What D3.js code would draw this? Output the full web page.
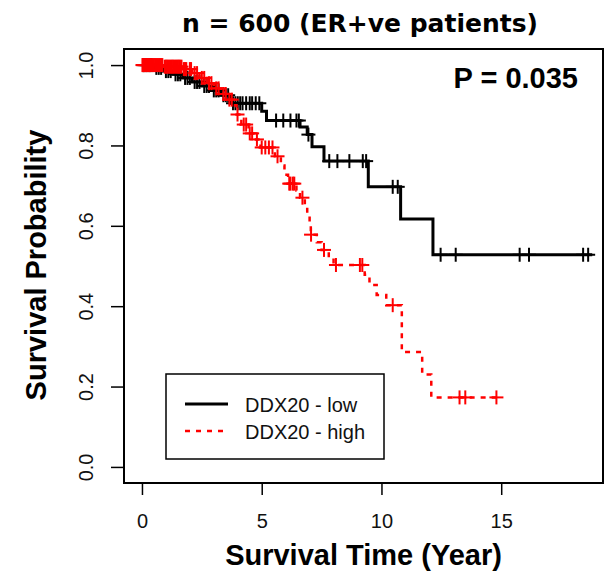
<!DOCTYPE html>
<html>
<head>
<meta charset="utf-8">
<script src="https://cdn.jsdelivr.net/npm/d3@7"></script>
<style>
  body { margin: 0; background: #fff; }
  svg { display: block; }
  text { font-family: "Liberation Sans", Arial, sans-serif; }
</style>
</head>
<body>
<svg width="606" height="575"></svg>
<script>
// KM curve for DDX20 - low (step times and survival after each step)
var lowTime = [0.5, 0.9, 1.3, 1.7, 2.1, 2.5, 2.9, 3.3, 3.7, 5.0, 5.2, 6.6, 6.9, 7.1, 7.6, 9.45, 10.8, 12.15];
var lowSurv = [0.993, 0.985, 0.977, 0.968, 0.958, 0.948, 0.937, 0.925, 0.905, 0.885, 0.862, 0.846, 0.827, 0.797, 0.761, 0.697, 0.617, 0.528];
var lowEnd = 18.8;
var lowCens = [0.05, 0.1, 0.15, 0.2, 0.3, 0.35, 0.4, 0.6, 0.7, 0.8, 1.0, 1.1, 1.2, 1.4, 1.5, 1.6, 1.8, 1.9, 2.0,
  2.2, 2.3, 2.4, 2.6, 2.7, 2.8, 3.0, 3.1, 3.2, 3.4, 3.5, 3.6, 3.8, 3.9, 4.0, 4.1, 4.2, 4.35, 4.5, 4.6, 4.75, 4.9,
  5.6, 5.9, 6.2, 6.45, 6.55, 6.95, 7.82, 8.16, 8.66, 9.22, 9.36, 10.47, 10.68, 12.47, 13.1, 15.77, 16.16, 18.42, 18.63];

// KM curve for DDX20 - high
var highTime = [0.9, 1.7, 2.1, 2.4, 2.7, 3.0, 3.3, 3.55, 3.8, 3.95, 4.15, 4.45, 4.7, 4.95, 5.55, 5.8, 5.95, 6.1,
  6.45, 6.6, 6.8, 6.9, 7.0, 7.05, 7.3, 7.5, 7.8, 8.0, 9.3, 9.5, 9.8, 10.2, 10.85, 11.7, 12.08];
var highSurv = [0.996, 0.99, 0.98, 0.968, 0.955, 0.942, 0.928, 0.914, 0.9, 0.877, 0.852, 0.83, 0.815, 0.795, 0.773,
  0.75, 0.727, 0.705, 0.688, 0.67, 0.647, 0.624, 0.601, 0.578, 0.559, 0.54, 0.521, 0.5025, 0.478, 0.453, 0.428,
  0.4025, 0.286, 0.23, 0.173];
var highEnd = 14.85;
var highCens = [0.02, 0.06, 0.1, 0.14, 0.18, 0.22, 0.26, 0.3, 0.35, 0.4, 0.45, 0.5, 0.55, 0.6, 0.65, 0.7, 0.75, 0.8,
  0.85, 0.95, 1.0, 1.05, 1.1, 1.15, 1.2, 1.25, 1.3, 1.35, 1.4, 1.45, 1.5, 1.55, 1.6, 1.65, 1.75, 1.8, 1.85, 2.0,
  2.05, 2.2, 2.3, 2.5, 2.6, 2.8, 2.9, 3.1, 3.2, 3.4, 3.5, 3.65, 3.75, 3.99, 4.25, 4.35, 4.5, 4.6, 4.8, 5.0, 5.15,
  5.3, 5.45, 5.66, 6.15, 6.2, 6.3, 6.36, 6.7, 7.06, 7.6, 8.1, 9.1, 9.2, 10.47, 13.26, 13.5, 14.8];

var xTicks = [0, 5, 10, 15];
var yTicks = [0, 0.2, 0.4, 0.6, 0.8, 1.0];
var groupNames = ["DDX20 - low", "DDX20 - high"];
var titleText = "n = 600 (ER+ve patients)";
var pText = "P = 0.035";

var svg = d3.select("svg");
var box = {left: 124, top: 49, right: 603, bottom: 483};

var xscale = d3.scaleLinear().domain([-0.75, 19.25]).range([box.left, box.right]);
var yscale = d3.scaleLinear().domain([-0.04, 1.04]).range([box.bottom, box.top]);

// survival value at time t (step function)
var survAt = function(times, surv, t)
{
    var s = 1;
    times.forEach(function(d, i) { if (d <= t) s = surv[i]; });
    return s;
}

var stepLine = d3.line()
    .x(function(d) { return xscale(d[0]); })
    .y(function(d) { return yscale(d[1]); })
    .curve(d3.curveStepAfter);

var drawCurve = function(times, surv, end, cens, color, dash, lw)
{
    var pts = [[0, 1]];
    times.forEach(function(t, i) { pts.push([t, surv[i]]); });
    pts.push([end, surv[surv.length - 1]]);

    svg.append("path")
        .attr("d", stepLine(pts))
        .attr("fill", "none")
        .attr("stroke", color)
        .attr("stroke-width", lw)
        .attr("stroke-dasharray", dash);

    // censor marks
    var g = svg.append("g");
    cens.forEach(function(t) {
        var cx = xscale(t), cy = yscale(survAt(times, surv, t));
        g.append("line").attr("x1", cx - 7).attr("x2", cx + 7).attr("y1", cy).attr("y2", cy);
        g.append("line").attr("x1", cx).attr("x2", cx).attr("y1", cy - 7).attr("y2", cy + 7);
    });
    g.selectAll("line").attr("stroke", color).attr("stroke-width", 2);
}

drawCurve(lowTime, lowSurv, lowEnd, lowCens, "#000", null, 3);
drawCurve(highTime, highSurv, highEnd, highCens, "#ff0000", "5,6", 2.5);

// frame
svg.append("rect")
    .attr("x", box.left).attr("y", box.top)
    .attr("width", box.right - box.left).attr("height", box.bottom - box.top)
    .attr("fill", "none").attr("stroke", "#000").attr("stroke-width", 2);

// x axis
var xAxis = d3.axisBottom(xscale).tickValues(xTicks).tickSize(12).tickPadding(19).tickFormat(d3.format("d"));
var gx = svg.append("g").attr("transform", "translate(0," + box.bottom + ")").call(xAxis);
gx.select(".domain").remove();
gx.selectAll(".tick line").attr("stroke", "#000").attr("stroke-width", 1.5);
gx.selectAll(".tick text").attr("font-size", 20).attr("font-family", "Liberation Sans, Arial, sans-serif").attr("fill", "#111");

// y axis (labels rotated as in R)
var yAxis = d3.axisLeft(yscale).tickValues(yTicks).tickSize(13).tickFormat(d3.format(".1f"));
var gy = svg.append("g").attr("transform", "translate(" + box.left + ",0)").call(yAxis);
gy.select(".domain").remove();
gy.selectAll(".tick line").attr("stroke", "#000").attr("stroke-width", 1.5);
gy.selectAll(".tick text")
    .attr("font-size", 20).attr("font-family", "Liberation Sans, Arial, sans-serif").attr("fill", "#111")
    .attr("x", null).attr("dy", null)
    .attr("text-anchor", "middle")
    .attr("transform", "translate(-31,0) rotate(-90)");

// titles
svg.append("text")
    .attr("x", 360).attr("y", 32)
    .attr("text-anchor", "middle")
    .style("font-family", "DejaVu Sans, sans-serif")
    .attr("font-weight", "bold").attr("font-size", 25)
    .text(titleText);

svg.append("text")
    .attr("x", 578).attr("y", 88)
    .attr("text-anchor", "end")
    .attr("font-weight", "bold").attr("font-size", 29)
    .text(pText);

svg.append("text")
    .attr("x", 363.5).attr("y", 565)
    .attr("text-anchor", "middle")
    .attr("font-weight", "bold").attr("font-size", 29)
    .text("Survival Time (Year)");

svg.append("text")
    .attr("transform", "translate(46,265) rotate(-90)")
    .attr("text-anchor", "middle")
    .attr("font-weight", "bold").attr("font-size", 29)
    .text("Survival Probability");

// legend
var legend = svg.append("g");
legend.append("rect")
    .attr("x", 166).attr("y", 374).attr("width", 218).attr("height", 85)
    .attr("fill", "#fff").attr("stroke", "#000").attr("stroke-width", 1.5);

var legStyles = [{color: "#000", dash: null, w: 3}, {color: "#ff0000", dash: "5,6", w: 2.5}];
groupNames.forEach(function(name, i) {
    var ly = 404 + i * 27;
    legend.append("line")
        .attr("x1", 185).attr("x2", 228).attr("y1", ly).attr("y2", ly)
        .attr("stroke", legStyles[i].color).attr("stroke-width", legStyles[i].w)
        .attr("stroke-dasharray", legStyles[i].dash);
    legend.append("text")
        .attr("x", 245).attr("y", ly + 8)
        .attr("font-size", 20).attr("fill", "#111")
        .text(name);
});
</script>
</body>
</html>
